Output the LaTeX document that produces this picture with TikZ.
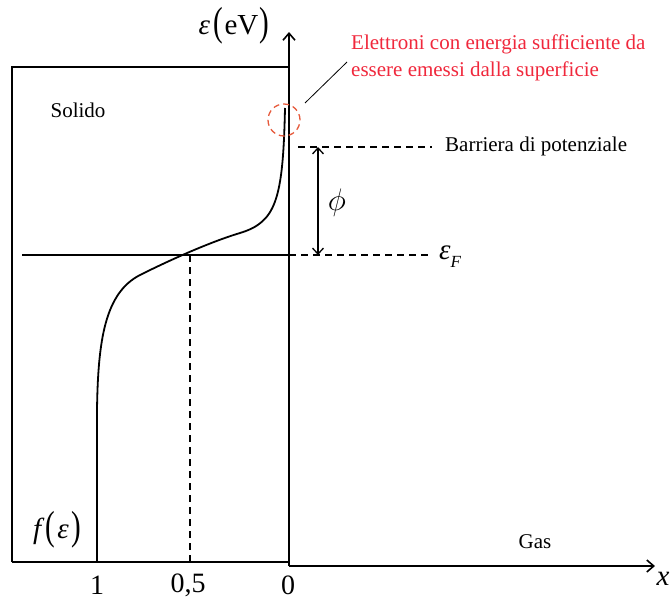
\documentclass[tikz,border=0pt]{standalone}
\usepackage{fontspec}
\usepackage{graphicx}
\setmainfont{Liberation Serif}
\usetikzlibrary{arrows.meta}
\definecolor{redtxt}{RGB}{240,40,60}
\definecolor{redcirc}{RGB}{230,90,60}
\newcommand{\tallparL}{\raisebox{-0.06em}{\scalebox{1}[1.4]{(}}}
\newcommand{\tallparR}{\raisebox{-0.06em}{\scalebox{1}[1.4]{)}}}
\begin{document}
\begin{tikzpicture}[x=1pt,y=-1pt,
  axisline/.style={line width=1.6pt,-{Straight Barb[length=7pt,width=12pt,line width=1.6pt]}},
  boxline/.style={line width=1.3pt},
  dashline/.style={line width=1.2pt,dash pattern=on 7pt off 5pt},
  lbl/.style={inner sep=0pt,font=\fontsize{21}{27}\selectfont},
  numlbl/.style={inner sep=0pt,font=\fontsize{28}{30}\selectfont},
  mathlbl/.style={inner sep=0pt,font=\fontsize{29}{32}\selectfont}]
\useasboundingbox (0,0) rectangle (671,600);
% coordinates
\coordinate (O) at (289,566);
\coordinate (ytip) at (289,32);
\coordinate (xtip) at (655,566);
\coordinate (bl) at (12,562);
\coordinate (br) at (289,562);
\coordinate (tl) at (12,67);
\coordinate (tr) at (289,67);
\coordinate (fl) at (22,255);
\coordinate (fr) at (289,255);
\coordinate (fe) at (432,255);
\coordinate (bs) at (298,147);
\coordinate (be) at (432,147);
\coordinate (pt) at (318,147);
\coordinate (pb) at (318,255);
\coordinate (half) at (190,255);
\coordinate (halfb) at (190,562);
\coordinate (ls) at (305,103);
\coordinate (le) at (347,62);
% box
\draw[boxline] (bl) -- (tl) -- (tr);
\draw[boxline] (bl) -- (br);
% axes
\draw[axisline] (O) -- (ytip);
\draw[axisline] (O) -- (xtip);
% Fermi level
\draw[boxline] (fl) -- (fr);
\draw[dashline] (fr) -- (fe);
\draw[dashline] (bs) -- (be);
\draw[dashline] (half) -- (halfb);
% phi arrow
\draw[line width=1.3pt,{Straight Barb[length=6pt,width=11pt,line width=1.3pt]}-{Straight Barb[length=6pt,width=11pt,line width=1.3pt]}] (pt) -- (pb);
% curve
\draw[line width=1.8pt] (285,108) .. controls (283,200) and (276,222) .. (240,233)
  .. controls (210,242) and (170,260) .. (140,275)
  .. controls (105,293) and (98,340) .. (97,410) -- (97,562);
% red circle and leader
\node[draw=redcirc,dash pattern=on 6pt off 4pt,line width=1.3pt,circle,minimum size=32pt,inner sep=0pt] (circ) at (284,120) {};
\draw[line width=0.8pt] (ls) -- (le);
% texts
\node[lbl,text=redtxt,anchor=west,align=left] (note) at (351,58) {Elettroni con energia sufficiente da\\essere emessi dalla superficie};
\node[lbl,anchor=west] (barr) at (445,146) {Barriera di potenziale};
\node[lbl] (sol) at (78,110) {Solido};
\node[lbl] (gas) at (535,542) {Gas};
\node[numlbl] (one) at (97,585) {1};
\node[numlbl] (half5) at (188,585) {0,5};
\node[numlbl] (zero) at (288,585) {0};
\node[mathlbl] (xl) at (663,579) {\itshape x};
\node[mathlbl] (eps) at (234,26) {{\itshape ε}\hspace{0.12em}\tallparL\hspace{0.05em}eV\hspace{0.05em}\tallparR};
\node[mathlbl] (f) at (57,530) {{\itshape f}\hspace{0.15em}\tallparL\hspace{0.08em}{\itshape ε}\hspace{0.08em}\tallparR};
\node[mathlbl] (phi) at (337,203) {\scalebox{1.25}{$\phi$}};
\node[mathlbl,anchor=west] (eF) at (439,257) {{\itshape ε}\raisebox{-0.28em}{\fontsize{17}{17}\selectfont\itshape F}};
\end{tikzpicture}
\end{document}
